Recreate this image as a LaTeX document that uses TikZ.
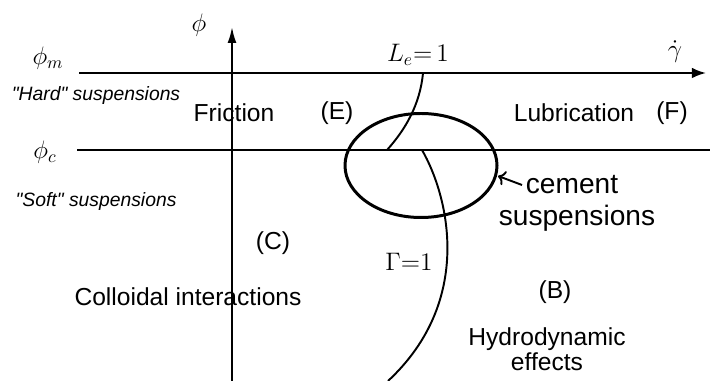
\documentclass[tikz,border=0pt]{standalone}
\usepackage{amsmath,amssymb}
\usepackage{fontspec}
\setsansfont{Liberation Sans}
\usetikzlibrary{arrows.meta,positioning}

\tikzset{
    regime/.style={font=\sffamily\fontsize{14}{15}\selectfont},
    susp/.style={font=\sffamily\itshape\fontsize{11}{13}\selectfont},
    mlabel/.style={font=\fontsize{14}{16}\selectfont, inner sep=1pt},
    axisline/.style={line width=1.1pt},
}

\begin{document}
\begin{tikzpicture}[x=0.02cm, y=-0.02cm]
    \useasboundingbox (0,0) rectangle (710,381);

    % Axes and volume fraction levels
    \coordinate (phibot) at (232,381);
    \coordinate (phitop) at (232,27);
    \coordinate (mstart) at (79,73);
    \coordinate (mend) at (706,73);
    \coordinate (cstart) at (77,150);
    \coordinate (cend) at (710,150);
    \draw[axisline, -{Latex[length=9pt,width=5pt]}] (phibot) -- (phitop);
    \draw[axisline, -{Latex[length=8pt,width=6pt]}] (mstart) -- (mend);
    \draw[axisline] (cstart) -- (cend);

    % Axis and level labels
    \node[mlabel] (phi) at (199,25) {$\phi$};
    \node[mlabel] (gdot) at (675,52) {$\dot{\gamma}$};
    \node[mlabel] (phim) at (48,58) {$\phi_m$};
    \node[mlabel] (phic) at (45,152) {$\phi_c$};
    \node[susp] (hard) at (96,96) {\textquotedbl Hard\textquotedbl{} suspensions};
    \node[susp] (soft) at (96,202) {\textquotedbl Soft\textquotedbl{} suspensions};

    % Cement suspensions region
    \draw[line width=1.7pt] (421,165.5) ellipse (76 and 52);
    \coordinate (ctip) at (498,176);

    % Transition curves
    \draw[axisline] (423,73) .. controls (420,105) and (405,130) .. (387,150);
    \draw[axisline] (422,150) .. controls (448,195) and (475,300) .. (388,381);
    \node[mlabel] (le) at (418,55) {$L_e{=}\,1$};
    \node[mlabel] (gam) at (409,262) {$\Gamma{=}1$};

    % Regimes
    \node[regime] (fric) at (234,113) {Friction};
    \node[regime] (e) at (337,113) {(E)};
    \node[regime] (lub) at (574,113) {Lubrication};
    \node[regime] (f) at (672,113) {(F)};
    \node[regime] (c) at (273,243) {(C)};
    \node[regime] (coll) at (188,297) {Colloidal interactions};
    \node[regime] (b) at (555,292) {(B)};
    \node[regime, align=center, font=\sffamily\fontsize{14}{14.3}\selectfont] (hydro) at (547,349) {Hydrodynamic\\effects};
    \node[font=\sffamily\fontsize{16}{18}\selectfont, inner sep=2pt] (cement) at (572,185) {cement};
    \node[font=\sffamily\fontsize{16}{18}\selectfont] (csusp) at (577,218) {suspensions};
    \draw[line width=1.1pt, -{To[length=4pt]}] (cement.west) -- (ctip);

\end{tikzpicture}
\end{document}
